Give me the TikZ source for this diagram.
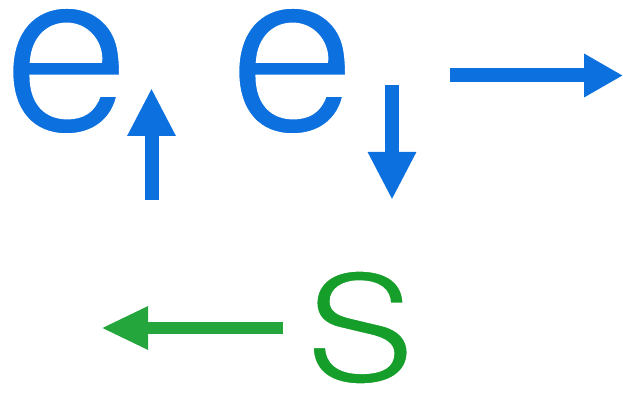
\documentclass[tikz,border=0pt]{standalone}
\usepackage{fontspec}
\setmainfont{TeX Gyre Heros}
\usetikzlibrary{arrows.meta}
\definecolor{eblue}{RGB}{12,112,222}
\definecolor{sgreen}{RGB}{22,158,42}
\definecolor{agreen}{RGB}{36,166,60}
\newcommand{\thinglyph}[2]{\special{pdf:literal q 2 Tr #1 w 1 G}#2\special{pdf:literal Q}}
\begin{document}
\begin{tikzpicture}[x=1pt,y=1pt,
  letter/.style={inner sep=0pt, outer sep=0pt},
  bigarrow/.style={line width=14pt, -{Triangle[length=48pt,width=45pt]}},
  harrow/.style={line width=14pt, -{Triangle[length=39pt,width=41pt]}},
  garrow/.style={line width=12.5pt, -{Triangle[length=47pt,width=40pt]}}]
\useasboundingbox (0,0) rectangle (623,398);
\coordinate (upA) at (151.5,198);
\coordinate (upB) at (151.5,310);
\coordinate (dnA) at (392,313);
\coordinate (dnB) at (392,198);
\coordinate (rtA) at (450,322.5);
\coordinate (rtB) at (623,322.5);
\coordinate (lfA) at (283,70);
\coordinate (lfB) at (101,70);
\draw[bigarrow, eblue] (upA) -- (upB);
\draw[bigarrow, eblue] (dnA) -- (dnB);
\draw[harrow, eblue] (rtA) -- (rtB);
\draw[garrow, agreen] (lfA) -- (lfB);
\node[letter, text=eblue, font=\fontsize{232}{232}\selectfont] (e1) at (66.5,327) {\thinglyph{4}{e}};
\node[letter, text=eblue, font=\fontsize{232}{232}\selectfont] (e2) at (292.5,327) {\thinglyph{4}{e}};
\node[letter, text=sgreen, xscale=1.12, font=\fontsize{150}{150}\selectfont] (S) at (360,70.5) {\thinglyph{3}{S}};
\end{tikzpicture}
\end{document}
